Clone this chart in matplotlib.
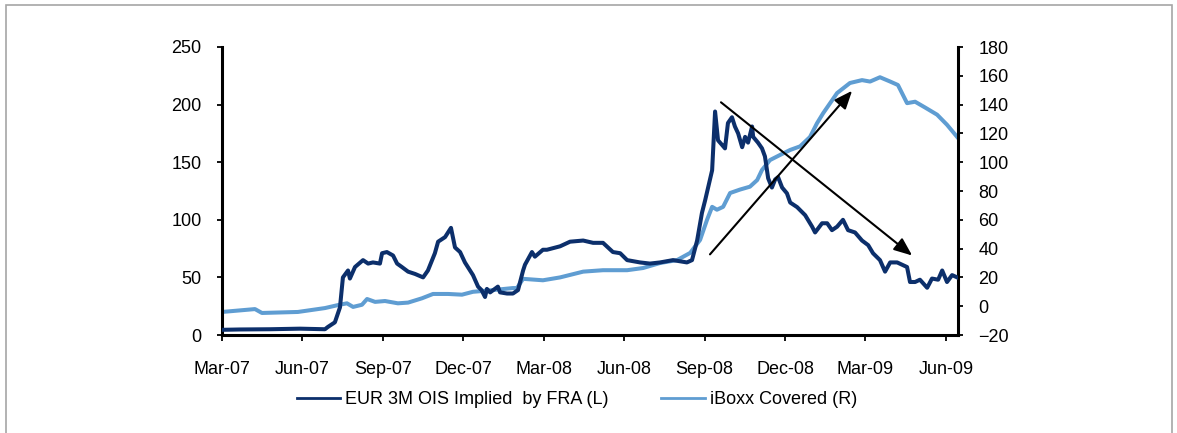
import numpy as np
import matplotlib
matplotlib.use("Agg")
from matplotlib import pyplot as plt
from matplotlib.patches import Rectangle

plt.rcParams['font.family'] = ['Liberation Sans', 'DejaVu Sans']

# x positions are months since Mar-07
ois_x = [0, 0.67, 1.79, 2.91, 3.84, 3.95, 4.21, 4.40, 4.51, 4.70, 4.77, 4.96, 5.26, 5.45,
         5.63, 5.89, 5.97, 6.15, 6.38, 6.53, 6.71, 6.94, 7.20, 7.50, 7.68, 7.94, 8.06, 8.32,
         8.54, 8.69, 8.88, 9.06, 9.36, 9.55, 9.68, 9.81, 9.88, 10.00, 10.29, 10.37, 10.63,
         10.85, 11.04, 11.23, 11.30, 11.56, 11.67, 11.97, 12.12, 12.61, 12.98, 13.47, 13.84,
         14.21, 14.58, 14.85, 15.11, 15.59, 15.96, 16.34, 16.82, 17.34, 17.53, 17.72, 17.90,
         18.02, 18.28, 18.39, 18.50, 18.65, 18.76, 18.87, 19.02, 19.13, 19.25, 19.40, 19.51,
         19.62, 19.77, 19.81, 19.99, 20.14, 20.25, 20.37, 20.51, 20.63, 20.74, 20.89, 21.07,
         21.19, 21.45, 21.75, 22.01, 22.12, 22.38, 22.57, 22.75, 22.94, 23.16, 23.35, 23.61,
         23.87, 24.10, 24.28, 24.54, 24.73, 24.92, 25.18, 25.55, 25.66, 25.85, 26.03, 26.30,
         26.48, 26.71, 26.86, 27.04, 27.23, 27.42]
ois_y = [4.5, 4.8, 5, 5.5, 5, 7, 11, 24, 50, 56, 49, 59, 65, 62,
         63, 62, 71, 72, 69, 62, 59, 55, 53, 50, 56, 71, 81, 85,
         93, 76, 72, 63, 52, 42, 39, 33, 40, 37, 42, 37, 36,
         36, 39, 56, 61, 72, 68, 74, 74, 77, 81, 82, 80,
         80, 72, 71, 65, 63, 62, 63, 65, 63, 65, 82, 106,
         117, 143, 194, 169, 165, 162, 184, 189, 181, 175, 163, 172,
         167, 181, 172, 167, 162, 155, 136, 128, 135, 137, 128, 123,
         115, 111, 104, 94, 89, 97, 97, 91, 94, 100, 91, 89,
         82, 78, 71, 65, 55, 63, 63, 59, 46, 46, 48, 41,
         49, 48, 56, 46, 52, 50]

iboxx_x = [0, 1.23, 1.49, 2.83, 3.84, 4.33, 4.66, 4.89, 5.22, 5.41, 5.71, 6.08, 6.56, 6.94,
           7.46, 7.87, 8.43, 8.95, 9.36, 10.00, 10.85, 11.00, 11.23, 11.97, 12.61, 13.47,
           14.21, 15.11, 15.70, 16.34, 16.97, 17.46, 17.83, 18.09, 18.28, 18.46, 18.69, 18.95,
           19.32, 19.69, 19.96, 20.14, 20.44, 20.81, 21.19, 21.56, 21.93, 22.19, 22.42, 22.68,
           22.94, 23.42, 23.87, 24.17, 24.54, 24.92, 25.21, 25.55, 25.85, 26.22, 26.67, 27.04,
           27.42]
iboxx_y = [-4, -2, -4.7, -4, -1.3, 0.8, 2, -0.5, 1, 5, 3, 3.6, 2, 2.5,
           5.5, 8.5, 8.5, 8, 10, 11, 12.6, 12.6, 19, 18, 20, 24,
           25, 25, 26.5, 30, 32, 37, 46, 60, 69, 67, 69, 78.6,
           81, 83, 87.6, 94.6, 101.5, 105, 108.5, 111, 117.5, 127, 134, 141,
           148, 155, 157, 156, 159, 156, 153.6, 141, 142, 138, 133, 126,
           117.5]

tick_months = [0, 3, 6, 9, 12, 15, 18, 21, 24, 27]
tick_labels = ['Mar-07', 'Jun-07', 'Sep-07', 'Dec-07', 'Mar-08', 'Jun-08',
               'Sep-08', 'Dec-08', 'Mar-09', 'Jun-09']

# arrows (start, end) in left-axis data units
arrow_down = [(18.61, 202), (25.74, 69)]
arrow_up = [(18.20, 70), (23.50, 212)]

dark = '#0c2f6b'
light = '#5f9dd2'

fig = plt.figure(figsize=(11.77, 4.33), dpi=100)
fig.patches.append(Rectangle((6 / 1177, -0.1), 1166 / 1177, 1.1 - 5 / 433,
                             transform=fig.transFigure, fill=False,
                             edgecolor='#a6a6a6', linewidth=1.2))

ax = fig.add_axes([222 / 1177, 1 - 335 / 433, 736 / 1177, 288 / 433])
ax2 = ax.twinx()

ax.plot(ois_x, ois_y, color=dark, linewidth=2.9, zorder=3)
ax2.plot(iboxx_x, iboxx_y, color=light, linewidth=2.9, zorder=2)
ax.set_zorder(ax2.get_zorder() + 1)
ax.patch.set_visible(False)

ax.set_xlim(0, 27.45)
ax.set_ylim(0, 250)
ax2.set_ylim(-20, 180)
ax.set_yticks(range(0, 251, 50))
ax2.set_yticks(range(-20, 181, 20))
ax.set_xticks(tick_months)
ax.set_xticklabels(tick_labels)

for a in (ax, ax2):
    for s in a.spines.values():
        s.set_visible(False)
        s.set_linewidth(2.2)
ax.spines['left'].set_visible(True)
ax.spines['bottom'].set_visible(True)
ax2.spines['right'].set_visible(True)

ax.tick_params(axis='x', direction='out', length=4.5, width=1.3, pad=14, labelsize=13)
ax.tick_params(axis='y', direction='out', length=3.6, width=1.3, pad=11, labelsize=13)
ax2.tick_params(axis='y', direction='out', length=3.6, width=1.3, pad=11, labelsize=13)

for (x0, y0), (x1, y1) in (arrow_down, arrow_up):
    ax.annotate('', xy=(x1, y1), xytext=(x0, y0),
                arrowprops=dict(arrowstyle='-|>,head_length=1.1,head_width=0.45',
                                color='black', linewidth=1.5, shrinkA=0, shrinkB=0),
                zorder=5, annotation_clip=False)

h1 = plt.Line2D([], [], color=dark, linewidth=2)
h2 = plt.Line2D([], [], color=light, linewidth=2)
fig.legend([h1, h2], ['EUR 3M OIS Implied  by FRA (L)', 'iBoxx Covered (R)'],
           loc='center', bbox_to_anchor=(577 / 1177, 1 - 400 / 433), ncol=2,
           frameon=False, fontsize=13, handlelength=2.4, handletextpad=0.3,
           columnspacing=2.9)

fig.savefig('out.png', dpi=100)
